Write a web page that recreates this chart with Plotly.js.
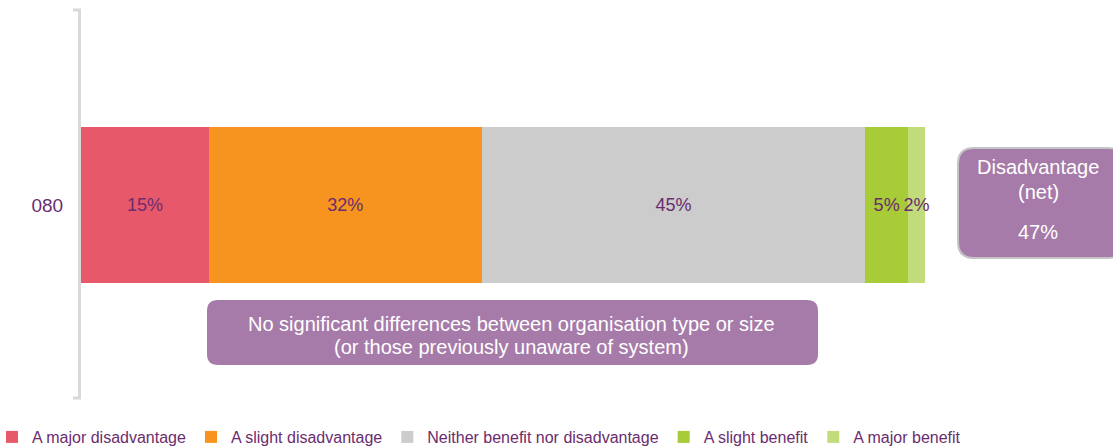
<!DOCTYPE html>
<html>
<head>
<meta charset="utf-8">
<script src="https://cdn.plot.ly/plotly-3.0.1.min.js"></script>
<style>html,body{margin:0;padding:0;background:#fff;}#chart{width:1113px;height:448px;}</style>
</head>
<body>
<div id="chart"></div>
<script>
var categories = ['080'];
var seriesNames = ['A major disadvantage', 'A slight disadvantage', 'Neither benefit nor disadvantage', 'A slight benefit', 'A major benefit'];
var seriesValues = [[15], [32], [45], [5], [2]];
var seriesColors = ['#e8586b', '#f7941f', '#cccccc', '#a8cb38', '#c3dc7b'];
var noteLines = ['No significant differences between organisation type or size', '(or those previously unaware of system)'];
var netLines = ['Disadvantage', '(net)'];
var netValue = seriesValues[0][0] + seriesValues[1][0];

var W = 1113, H = 448, L = 81, R = 0, T = 10, B = 50;
var pw = W - L - R, ph = H - T - B;
function px(x) { return (x - L) / pw; }
function py(y) { return (T + ph - y) / ph; }
function roundRect(x0, y0, x1, y1, r) {
  var a = px(x0), b = px(x1), c = py(y0), d = py(y1);
  var rx = r / pw, ry = r / ph;
  return 'M' + (a + rx) + ',' + c +
    ' L' + (b - rx) + ',' + c + ' Q' + b + ',' + c + ' ' + b + ',' + (c - ry) +
    ' L' + b + ',' + (d + ry) + ' Q' + b + ',' + d + ' ' + (b - rx) + ',' + d +
    ' L' + (a + rx) + ',' + d + ' Q' + a + ',' + d + ' ' + a + ',' + (d + ry) +
    ' L' + a + ',' + (c - ry) + ' Q' + a + ',' + c + ' ' + (a + rx) + ',' + c + ' Z';
}

var font = 'Liberation Sans, Arial, sans-serif';
var textPurple = '#6b2d6f';

var traces = seriesNames.map(function (n, i) {
  return {
    type: 'bar', orientation: 'h', name: n,
    y: [0], x: seriesValues[i],
    width: 1.005,
    marker: { color: seriesColors[i], line: { width: 0 } },
    text: seriesValues[i].map(function (v) { return v + '%'; }),
    textposition: 'inside', insidetextanchor: 'middle', textangle: 0,
    constraintext: 'none',
    textfont: { family: font, size: 18, color: textPurple },
    hoverinfo: 'skip'
  };
});

function label(x, y, t, size) {
  return { xref: 'paper', yref: 'paper', x: px(x), y: py(y), text: t, showarrow: false,
    font: { family: font, size: size, color: '#ffffff' }, align: 'center', xanchor: 'center', yanchor: 'middle' };
}

var layout = {
  width: W, height: H,
  margin: { l: L, r: R, t: T, b: B, pad: 0, autoexpand: false },
  barmode: 'stack',
  paper_bgcolor: '#ffffff', plot_bgcolor: '#ffffff',
  showlegend: true,
  legend: {
    orientation: 'h', x: px(-8), xanchor: 'left', y: py(437), yanchor: 'middle',
    font: { family: font, size: 16, color: textPurple },
    traceorder: 'normal', itemclick: false, itemdoubleclick: false,
    bgcolor: 'rgba(0,0,0,0)'
  },
  xaxis: {
    range: [0, pw / 8.525], showgrid: false, zeroline: false, showline: false,
    showticklabels: false, ticks: '', fixedrange: true
  },
  yaxis: {
    range: [-1.244, 1.256], tickvals: [0], ticktext: categories,
    showgrid: false, zeroline: false, showline: true, linecolor: '#d9d9d9', linewidth: 3,
    ticks: 'outside', ticklen: 11, tickcolor: 'rgba(0,0,0,0)',
    tickfont: { family: font, size: 19, color: textPurple }, fixedrange: true
  },
  shapes: [
    { type: 'line', xref: 'paper', yref: 'paper', x0: px(73), x1: px(81), y0: py(10), y1: py(10), line: { color: '#d9d9d9', width: 3 } },
    { type: 'line', xref: 'paper', yref: 'paper', x0: px(73), x1: px(81), y0: py(398), y1: py(398), line: { color: '#d9d9d9', width: 3 } },
    { type: 'path', xref: 'paper', yref: 'paper', path: roundRect(207, 300, 818, 365, 11), fillcolor: '#a67ba9', line: { width: 0 } },
    { type: 'path', xref: 'paper', yref: 'paper', path: roundRect(958, 148, 1124, 258, 16), fillcolor: '#a67ba9', line: { color: '#c4c4c4', width: 2 } }
  ],
  annotations: [
    label(511, 324, noteLines[0], 20),
    label(511, 347, noteLines[1], 20),
    label(1038, 167, netLines[0], 20),
    label(1038, 192, netLines[1], 20),
    label(1038, 232, netValue + '%', 20)
  ]
};

Plotly.newPlot('chart', traces, layout, { displayModeBar: false, staticPlot: true });
</script>
</body>
</html>
